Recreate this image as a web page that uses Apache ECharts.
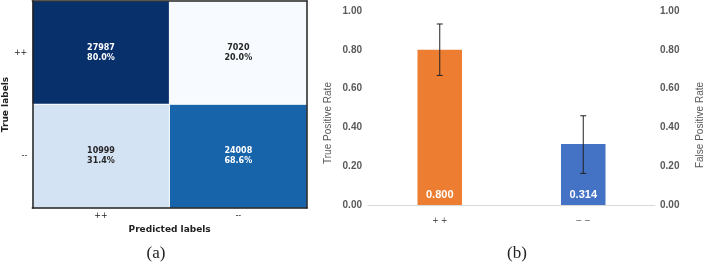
<!DOCTYPE html>
<html><head><meta charset="utf-8">
<script src="https://cdn.jsdelivr.net/npm/echarts@6/dist/echarts.min.js"></script>
<style>html,body{margin:0;padding:0;background:#fff}#c{width:706px;height:268px}</style>
</head><body><div id="c"></div>
<script>
// Confusion matrix
const cmCategories = ['++', '--'];
const cmCounts = [[27987, 7020], [10999, 24008]]; // [true][pred]
const cmPercents = [[80.0, 20.0], [31.4, 68.6]];
const cmColors = [['#08306b', '#f7fbff'], ['#d3e3f3', '#1764ab']];
const cmTextColors = [['#ffffff', '#262626'], ['#262626', '#ffffff']];
// Bar chart
const barCategories = ['+ +', '\u2212 \u2212'];
const barValues = [0.800, 0.314];
const barColors = ['#ed7d31', '#4472c4'];
const errLow = [0.668, 0.163];
const errHigh = [0.933, 0.460];

const heatData = [];
for (let i = 0; i < 2; i++) for (let j = 0; j < 2; j++) {
  heatData.push({
    value: [j, i, cmCounts[i][j]],
    pct: cmPercents[i][j],
    itemStyle: { color: cmColors[i][j] },
    label: { color: cmTextColors[i][j] }
  });
}

const chart = echarts.init(document.getElementById('c'), null, { renderer: 'canvas' });
const dejavu = 'DejaVu Sans';
const grey = '#595959';
chart.setOption({
  animation: false,
  grid: [
    { left: 29, top: 1, width: 278, height: 207 },
    { left: 368, right: 48, top: 11, bottom: 63 }
  ],
  title: [
    { text: '(a)', left: 151, top: 240, textAlign: 'center',
      textStyle: { fontFamily: 'Liberation Serif', fontSize: 17, fontWeight: 'normal', color: '#222' } },
    { text: '(b)', left: 512, top: 240, textAlign: 'center',
      textStyle: { fontFamily: 'Liberation Serif', fontSize: 17, fontWeight: 'normal', color: '#222' } }
  ],
  xAxis: [
    { type: 'category', gridIndex: 0, data: cmCategories, position: 'bottom', z: 10,
      axisLine: { lineStyle: { color: '#222', width: 1.5 } }, axisTick: { show: false },
      axisLabel: { color: '#222', fontFamily: dejavu, fontSize: 8, margin: 4 },
      name: 'Predicted labels', nameLocation: 'middle', nameGap: 17,
      nameTextStyle: { fontFamily: dejavu, fontSize: 9, fontWeight: 'bold', color: '#222' },
      splitLine: { show: false } },
    { type: 'category', gridIndex: 0, data: cmCategories, position: 'top', z: 10,
      axisLine: { lineStyle: { color: '#222', width: 1.5 } }, axisTick: { show: false },
      axisLabel: { show: false } },
    { type: 'category', gridIndex: 1, data: barCategories,
      axisLine: { lineStyle: { color: '#d9d9d9', width: 1 } }, axisTick: { show: false },
      axisLabel: { color: grey, fontFamily: 'Liberation Sans', fontSize: 10, margin: 11 } }
  ],
  yAxis: [
    { type: 'category', gridIndex: 0, data: cmCategories, inverse: true, z: 10,
      axisLine: { lineStyle: { color: '#222', width: 1.5 } }, axisTick: { show: false },
      axisLabel: { color: '#222', fontFamily: dejavu, fontSize: 8, margin: 5 },
      name: 'True labels', nameLocation: 'middle', nameGap: 19,
      nameTextStyle: { fontFamily: dejavu, fontSize: 9, fontWeight: 'bold', color: '#222' } },
    { type: 'category', gridIndex: 0, data: cmCategories, inverse: true, position: 'right', z: 10,
      axisLine: { lineStyle: { color: '#222', width: 1.5 } }, axisTick: { show: false },
      axisLabel: { show: false } },
    { type: 'value', gridIndex: 1, min: 0, max: 1, interval: 0.2,
      axisLine: { show: false }, axisTick: { show: false }, splitLine: { show: false },
      axisLabel: { color: grey, fontFamily: 'Liberation Sans', fontWeight: 'bold', fontSize: 10, margin: 6,
        formatter: v => v.toFixed(2) },
      name: 'True Positive Rate', nameLocation: 'middle', nameGap: 35, nameRotate: 90,
      nameTextStyle: { color: grey, fontFamily: 'Liberation Sans', fontSize: 10, padding: [0, 30, 0, 0] } },
    { type: 'value', gridIndex: 1, min: 0, max: 1, interval: 0.2, position: 'right',
      axisLine: { show: false }, axisTick: { show: false }, splitLine: { show: false },
      axisLabel: { color: grey, fontFamily: 'Liberation Sans', fontWeight: 'bold', fontSize: 10, margin: 5,
        formatter: v => v.toFixed(2) },
      name: 'False Positive Rate', nameLocation: 'middle', nameGap: 40, nameRotate: 90,
      nameTextStyle: { color: grey, fontFamily: 'Liberation Sans', fontSize: 10, padding: [0, 34, 0, 0] } }
  ],
  series: [
    { type: 'heatmap', xAxisIndex: 0, yAxisIndex: 0, data: heatData,
      itemStyle: { borderColor: '#ffffff', borderWidth: 1 },
      emphasis: { disabled: true },
      label: { show: true, fontFamily: dejavu, fontSize: 8, fontWeight: 'bold', lineHeight: 10,
        formatter: p => p.value[2] + '\n' + p.data.pct.toFixed(1) + '%' } },
    { type: 'bar', xAxisIndex: 2, yAxisIndex: 2, barWidth: '31%',
      data: barValues.map((v, i) => ({ value: v, itemStyle: { color: barColors[i] } })),
      label: { show: true, position: 'insideBottom', distance: 5, color: '#fff', fontFamily: 'Liberation Sans',
        fontWeight: 'bold', fontSize: 11, formatter: p => p.value.toFixed(3) } },
    { type: 'custom', xAxisIndex: 2, yAxisIndex: 2, z: 5,
      data: barValues.map((v, i) => [i, errLow[i], errHigh[i]]),
      renderItem: (params, api) => {
        const lo = api.coord([api.value(0), api.value(1)]);
        const hi = api.coord([api.value(0), api.value(2)]);
        const w = 3;
        const st = { stroke: '#222', lineWidth: 1 };
        return { type: 'group', children: [
          { type: 'line', shape: { x1: lo[0], y1: lo[1], x2: hi[0], y2: hi[1] }, style: st },
          { type: 'line', shape: { x1: lo[0] - w, y1: lo[1], x2: lo[0] + w, y2: lo[1] }, style: st },
          { type: 'line', shape: { x1: hi[0] - w, y1: hi[1], x2: hi[0] + w, y2: hi[1] }, style: st }
        ] };
      } }
  ]
});
</script></body></html>
